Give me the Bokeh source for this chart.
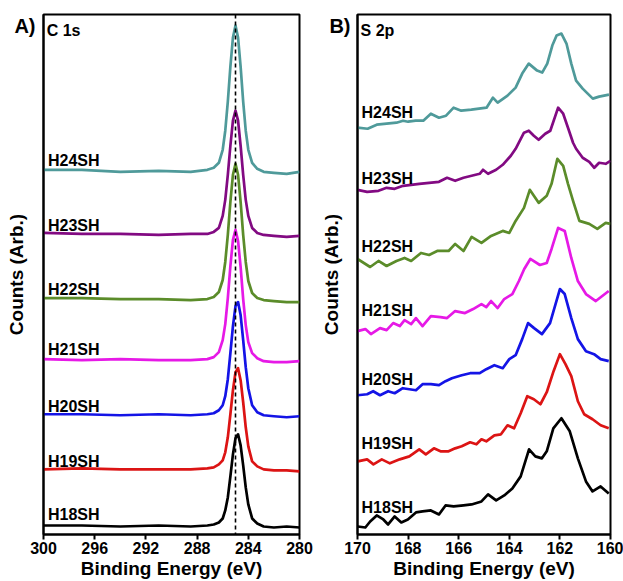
from bokeh.plotting import figure
from bokeh.layouts import row
from bokeh.models import Range1d, FixedTicker, Span, Label, ColumnDataSource
from bokeh.core.properties import value
from bokeh.embed import file_html
from bokeh.resources import INLINE

FONT = "Liberation Sans"

# ---------------- data ----------------
names = ["H24SH", "H23SH", "H22SH", "H21SH", "H20SH", "H19SH", "H18SH"]
colors = ["#4f9a9a", "#820a82", "#5b8c2a", "#e619e6", "#1414e6", "#dc1414", "#000000"]

# Panel A: C 1s (binding energy, eV) and stacked counts
c1s_energy = [300, 297, 294, 291, 288.5, 287.2, 286.7, 286.3, 286.0, 285.8, 285.6, 285.4, 285.2,
              285.0, 284.8, 284.6, 284.4, 284.2, 284.0, 283.7, 283.3, 282.8, 282, 281, 280]
c1s_h24 = [364, 364, 362, 363, 362, 364, 366, 371, 384, 403, 432, 467, 496, 508, 496, 467, 432, 403, 384, 371, 365, 362, 361, 360, 362]
c1s_h23 = [301, 300, 300, 299, 300, 300, 302, 306, 318, 334, 359, 388, 413, 423, 413, 388, 359, 334, 318, 306, 301, 299, 298, 297, 298]
c1s_h22 = [236, 236, 235, 235, 234, 235, 237, 242, 254, 272, 299, 332, 359, 370, 359, 332, 299, 272, 253, 241, 236, 234, 233, 232, 232]
c1s_h21 = [175, 174, 175, 174, 174, 175, 177, 182, 194, 210, 236, 268, 294, 304, 293, 267, 235, 209, 192, 181, 176, 173, 172, 172, 173]
c1s_h20 = [120, 120, 119, 120, 119, 120, 121, 124, 129, 138, 155, 181, 208, 228, 232, 219, 194, 167, 146, 129, 122, 119, 118, 117, 118]
c1s_h19 = [65, 66, 65, 65, 65, 66, 67, 70, 74, 82, 97, 120, 144, 162, 166, 154, 132, 107, 88, 73, 68, 65, 64, 64, 63]
c1s_h18 = [9, 9, 8, 9, 8, 9, 10, 12, 16, 24, 37, 58, 80, 96, 100, 89, 69, 47, 30, 16, 11, 8, 7, 8, 7]
c1s_label_y = [373, 308, 245, 185, 128, 73, 20]
c1s_ref_energy = 285.0

# Panel B: S 2p
s2p_e24 = [170.0, 169.6, 169.24, 168.85, 168.46, 168.2, 168.0, 167.7, 167.4, 167.1, 166.78, 166.5, 166.2, 165.9,
           165.5, 165.2, 164.9, 164.65, 164.46, 164.07, 163.75, 163.49, 163.23, 162.9, 162.7, 162.5, 162.3,
           162.13, 161.94, 161.74, 161.55, 161.36, 161.1, 160.9, 160.7, 160.45, 160.06]
s2p_h24 = [406, 405, 409, 410, 411, 413, 412, 413, 413, 420, 416, 418, 426, 423, 424, 425, 426, 436, 431, 438,
           446, 460, 470, 463, 461, 470, 488, 498, 500, 490, 470, 453, 445, 440, 435, 437, 439]
s2p_e23 = [170.0, 169.62, 169.17, 168.85, 168.53, 168.2, 167.88, 167.56, 167.17, 166.78, 166.46, 166.14, 165.81,
           165.49, 165.17, 165.04, 164.84, 164.52, 164.26, 163.94, 163.75, 163.42, 163.23, 163.03, 162.84, 162.58,
           162.38, 162.07, 161.87, 161.68, 161.48, 161.36, 161.1, 160.84, 160.64, 160.45, 160.19, 160.0]
s2p_h23 = [344, 342, 343, 346, 345, 348, 349, 350, 351, 352, 356, 353, 356, 358, 360, 364, 360, 364, 369, 378,
           385, 401, 403, 398, 394, 400, 403, 426, 420, 406, 391, 385, 376, 372, 366, 371, 370, 373]
s2p_e22 = [170.0, 169.5, 169.17, 168.85, 168.46, 168.14, 167.88, 167.49, 167.17, 166.85, 166.4, 166.14, 165.81,
           165.49, 165.1, 164.72, 164.26, 164.0, 163.75, 163.42, 163.19, 162.84, 162.52, 162.33, 162.1, 161.87,
           161.68, 161.48, 161.23, 160.84, 160.52, 160.19, 160.0]
s2p_h22 = [275, 267, 273, 268, 273, 276, 273, 281, 279, 283, 283, 290, 283, 297, 291, 298, 303, 301, 313, 326,
           344, 331, 338, 350, 375, 368, 350, 333, 313, 310, 305, 311, 310]
s2p_e21 = [170.0, 169.69, 169.47, 169.11, 168.85, 168.59, 168.33, 168.14, 167.88, 167.69, 167.43, 167.1, 166.72,
           166.46, 166.14, 165.75, 165.43, 165.1, 164.91, 164.72, 164.46, 164.2, 163.88, 163.62, 163.41, 163.17,
           162.79, 162.52, 162.33, 162.07, 161.81, 161.55, 161.29, 160.97, 160.58, 160.07]
s2p_h21 = [203, 205, 200, 206, 204, 211, 208, 214, 210, 216, 208, 218, 217, 216, 223, 221, 225, 230, 227, 233,
           226, 235, 240, 253, 265, 275, 269, 271, 285, 306, 303, 276, 253, 240, 233, 243]
s2p_e20 = [170.0, 169.62, 169.38, 169.11, 168.79, 168.53, 168.21, 167.95, 167.69, 167.43, 167.1, 166.78, 166.52,
           166.27, 165.88, 165.55, 165.17, 164.91, 164.59, 164.26, 164.0, 163.75, 163.49, 163.26, 163.02, 162.71,
           162.39, 162.0, 161.81, 161.55, 161.29, 160.97, 160.65, 160.39, 160.07]
s2p_h20 = [139, 140, 143, 139, 143, 141, 146, 145, 144, 150, 150, 149, 153, 156, 159, 161, 161, 165, 169, 166,
           175, 179, 195, 211, 206, 200, 211, 245, 240, 216, 195, 183, 180, 175, 173]
s2p_e19 = [169.99, 169.62, 169.37, 169.04, 168.72, 168.33, 167.95, 167.56, 167.3, 166.98, 166.72, 166.4, 166.14,
           165.88, 165.55, 165.3, 165.1, 164.91, 164.59, 164.33, 164.07, 163.81, 163.55, 163.29, 163.03, 162.77,
           162.52, 162.25, 162.0, 161.78, 161.55, 161.29, 161.04, 160.71, 160.39, 160.07]
s2p_h19 = [73, 75, 70, 75, 71, 75, 78, 85, 80, 86, 83, 83, 86, 88, 92, 90, 95, 93, 99, 100, 109, 106, 121, 138,
           135, 130, 142, 163, 180, 170, 158, 133, 120, 115, 109, 106]
s2p_e18 = [169.99, 169.69, 169.5, 169.24, 168.98, 168.79, 168.53, 168.27, 168.01, 167.69, 167.43, 167.1, 166.78,
           166.52, 166.2, 165.81, 165.49, 165.1, 164.84, 164.52, 164.2, 163.88, 163.55, 163.22, 162.97, 162.71,
           162.52, 162.26, 161.94, 161.61, 161.29, 160.97, 160.71, 160.39, 160.07]
s2p_h18 = [8, 7, 13, 19, 15, 10, 18, 12, 15, 22, 23, 24, 20, 29, 28, 29, 30, 33, 40, 34, 39, 46, 58, 85, 78, 76,
           83, 106, 116, 103, 76, 53, 43, 48, 41]
s2p_label_y = [421, 355, 287, 224, 155, 91, 27]

c1s_ticks = [300, 296, 292, 288, 284, 280]
s2p_ticks = [170, 168, 166, 164, 162, 160]
panel_tag_y = 508

# ---------------- helpers ----------------
def style(p, ticks, tag, tag_standoff):
    p.outline_line_color = "black"
    p.outline_line_width = 2
    p.xgrid.visible = False
    p.ygrid.visible = False
    xa = p.xaxis[0]
    xa.ticker = FixedTicker(ticks=ticks)
    xa.minor_tick_line_color = None
    xa.major_tick_out = 5
    xa.major_tick_in = 0
    xa.major_tick_line_width = 2
    xa.axis_line_width = 2
    xa.major_label_text_font = FONT
    xa.major_label_text_font_size = "16px"
    xa.major_label_text_font_style = "bold"
    xa.major_label_text_color = "black"
    xa.major_label_standoff = 2
    xa.axis_label = "Binding Energy (eV)"
    xa.axis_label_text_font = FONT
    xa.axis_label_text_font_size = "19px"
    xa.axis_label_text_font_style = "bold"
    xa.axis_label_text_color = "black"
    xa.axis_label_standoff = 1
    ya = p.yaxis[0]
    # the panel tag ("A)" / "B)") is rendered as the single tick label of the y axis
    ya.ticker = FixedTicker(ticks=[panel_tag_y])
    ya.major_label_overrides = {panel_tag_y: tag}
    ya.major_tick_line_color = None
    ya.major_tick_out = 0
    ya.major_tick_in = 0
    ya.minor_tick_line_color = None
    ya.minor_tick_out = 0
    ya.minor_tick_in = 0
    ya.major_label_text_font = FONT
    ya.major_label_text_font_size = "20px"
    ya.major_label_text_font_style = "bold"
    ya.major_label_text_color = "black"
    ya.major_label_standoff = tag_standoff
    ya.axis_line_width = 2
    ya.axis_label = "Counts (Arb.)"
    ya.axis_label_text_font = FONT
    ya.axis_label_text_font_size = "19px"
    ya.axis_label_text_font_style = "bold"
    ya.axis_label_text_color = "black"
    ya.axis_label_standoff = -16


def core_label(p, core, x_core):
    p.add_layout(Label(x=x_core, y=512, text=core, text_font=FONT, text_font_size="16px",
                       text_font_style="bold", text_baseline="top", text_align="left", text_color="black"))


# ---------------- panel A ----------------
pA = figure(width=318, height=581, x_range=Range1d(300, 280), y_range=Range1d(0, 519),
            output_backend="svg", toolbar_location=None,
            min_border_left=43, min_border_right=19, min_border_top=14, min_border_bottom=40)
style(pA, c1s_ticks, "A)", 8)
for ys, c in zip([c1s_h24, c1s_h23, c1s_h22, c1s_h21, c1s_h20, c1s_h19, c1s_h18], colors):
    pA.line(c1s_energy, ys, line_color=c, line_width=2.7, line_join="round")
pA.add_layout(Span(location=c1s_ref_energy, dimension="height", line_color="black",
                   line_width=1.6, line_dash="4 3"))
srcA = ColumnDataSource(dict(x=[299.65] * len(names), y=c1s_label_y, t=names))
pA.text(x="x", y="y", text="t", source=srcA, text_font=value(FONT), text_font_size="16px",
        text_font_style="bold", text_baseline="middle", text_align="left", text_color="black")
core_label(pA, "C 1s", 299.75)

# ---------------- panel B ----------------
pB = figure(width=305, height=581, x_range=Range1d(170, 160), y_range=Range1d(0, 519),
            output_backend="svg", toolbar_location=None,
            min_border_left=34, min_border_right=13, min_border_top=14, min_border_bottom=40)
style(pB, s2p_ticks, "B)", 7)
series_B = [(s2p_e24, s2p_h24), (s2p_e23, s2p_h23), (s2p_e22, s2p_h22), (s2p_e21, s2p_h21),
            (s2p_e20, s2p_h20), (s2p_e19, s2p_h19), (s2p_e18, s2p_h18)]
for (xs, ys), c in zip(series_B, colors):
    pB.line(xs, ys, line_color=c, line_width=2.7, line_join="round")
srcB = ColumnDataSource(dict(x=[169.84] * len(names), y=s2p_label_y, t=names))
pB.text(x="x", y="y", text="t", source=srcB, text_font=value(FONT), text_font_size="16px",
        text_font_style="bold", text_baseline="middle", text_align="left", text_color="black")
core_label(pB, "S 2p", 169.88)

layout = row(pA, pB)
open("out.html", "w").write(file_html(layout, INLINE))
